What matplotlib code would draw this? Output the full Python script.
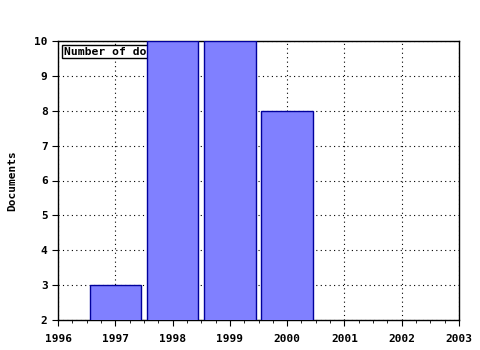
import matplotlib
matplotlib.use("Agg")
import matplotlib.pyplot as plt
from matplotlib.ticker import MultipleLocator

years = [1997, 1998, 1999, 2000]
documents = [3, 10, 10, 8]

plt.rcParams['font.family'] = ['DejaVu Sans Mono']
plt.rcParams['font.weight'] = 'bold'
plt.rcParams['font.size'] = 8

fig = plt.figure(figsize=(4.8, 3.5), dpi=100)
ax = fig.add_axes([58 / 480, 30 / 350, 401 / 480, 279 / 350])

ax.bar(years, documents, width=0.9, bottom=0, color='#8080ff',
       edgecolor='#00009c', linewidth=1, zorder=3)

ax.text(1996.1, 9.55, 'Number of documents', fontsize=8.2, fontweight='bold',
        va='bottom', ha='left', zorder=1,
        bbox=dict(facecolor='white', edgecolor='black', boxstyle='square,pad=0.15', linewidth=1))

ax.set_xlim(1996, 2003)
ax.set_ylim(2, 10)
ax.xaxis.set_major_locator(MultipleLocator(1))
ax.xaxis.set_minor_locator(MultipleLocator(0.25))
ax.yaxis.set_major_locator(MultipleLocator(1))
ax.tick_params(which='major', direction='out', length=4, color='black')
ax.tick_params(axis='x', which='minor', direction='out', length=2, color='black')
ax.tick_params(axis='x', pad=6)
ax.grid(True, which='major', color='black', linestyle=(0, (1, 3)), linewidth=0.8, zorder=0)
ax.set_axisbelow(True)
ax.set_ylabel('Documents', fontweight='bold', labelpad=12)
for s in ax.spines.values():
    s.set_linewidth(1)

fig.savefig('out.png', dpi=100)
